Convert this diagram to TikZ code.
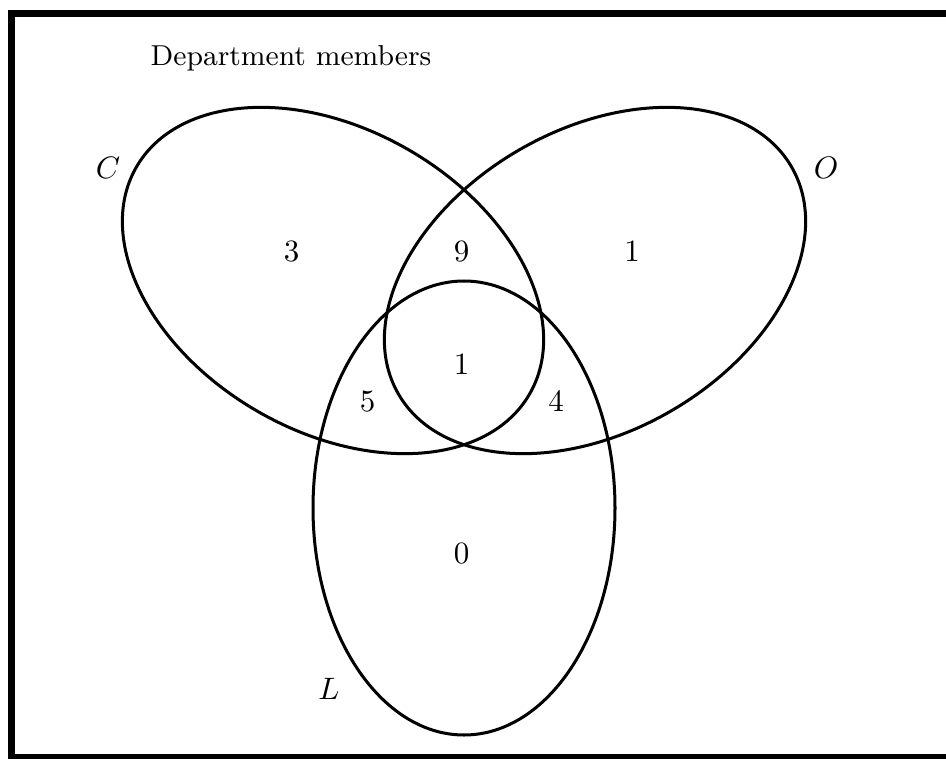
\documentclass[tikz,border=0pt]{standalone}
\begin{document}
\begin{tikzpicture}[x=0.3226pt,y=0.3226pt,
  setline/.style={draw=black,line width=0.97pt},
  framebox/.style={draw=black,line width=2.26pt},
  lab/.style={anchor=base,inner sep=0pt,font=\fontsize{10}{12}\selectfont},
  titlelab/.style={anchor=base,inner sep=0pt,font=\fontsize{9.3}{11}\selectfont}]
\useasboundingbox (0,0) rectangle (946,758);
\draw[framebox] (11.2,0.5) rectangle (980,744.7);
% sets
\draw[setline,rotate around={-30:(333,477.5)}] (333,477.5) ellipse [x radius=227, y radius=151];
\draw[setline,rotate around={30:(595,477.5)}] (595,477.5) ellipse [x radius=227, y radius=151];
\draw[setline] (464,250) ellipse [x radius=151, y radius=227];
% labels
\node[titlelab] (title) at (291,692.3) {Department members};
\node[lab] (lc) at (108,579) {$C$};
\node[lab] (lo) at (826,579) {$O$};
\node[lab] (ll) at (329,58.3) {$L$};
\node[lab] (n3) at (291.5,496.3) {3};
\node[lab] (n9) at (461.5,496.3) {9};
\node[lab] (n1a) at (632,496.3) {1};
\node[lab] (n1b) at (461.7,384) {1};
\node[lab] (n5) at (367.5,347) {5};
\node[lab] (n4) at (556,346.3) {4};
\node[lab] (n0) at (461.5,194.3) {0};
\end{tikzpicture}
\end{document}
